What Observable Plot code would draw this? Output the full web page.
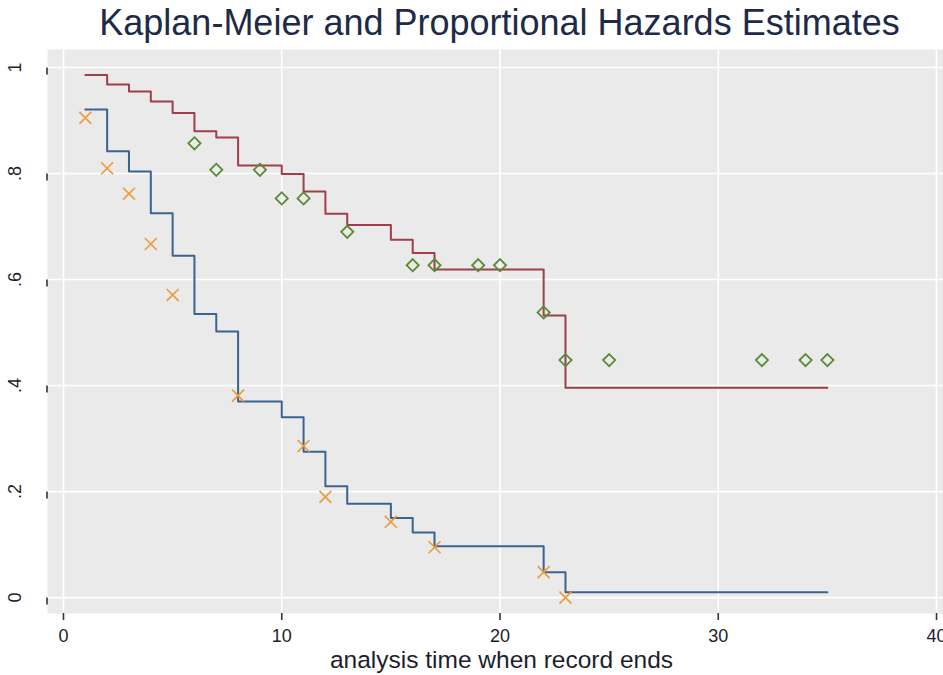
<!DOCTYPE html>
<html>
<head>
<meta charset="utf-8">
<script src="https://cdn.jsdelivr.net/npm/d3@7"></script>
<script src="https://cdn.jsdelivr.net/npm/@observablehq/plot@0.6"></script>
<style>
  html, body { margin: 0; padding: 0; background: #ffffff; }
  #title {
    box-sizing: border-box; width: 943px; height: 49px;
    padding-left: 56px; text-align: center;
    font-family: "Liberation Sans", Arial, sans-serif; font-size: 36px;
    color: #1e2a48; line-height: 46px; white-space: nowrap;
  }
  #chart svg { display: block; }
</style>
</head>
<body>
<div id="title">Kaplan-Meier and Proportional Hazards Estimates</div>
<div id="chart"></div>
<script>
// Step times for the Cox (proportional hazards) curves
const coxTimes = [1, 2, 3, 4, 5, 6, 7, 8, 10, 11, 12, 13, 15, 16, 17, 22, 23, 35];
// Cox estimate, treated group (red)
const coxTreated = [0.986, 0.968, 0.955, 0.936, 0.914, 0.880, 0.868, 0.815, 0.799, 0.766, 0.724, 0.703, 0.675, 0.650, 0.619, 0.532, 0.396, 0.396];
// Cox estimate, placebo group (blue)
const coxPlacebo = [0.921, 0.842, 0.804, 0.725, 0.645, 0.535, 0.502, 0.370, 0.340, 0.275, 0.210, 0.177, 0.150, 0.123, 0.097, 0.048, 0.010, 0.010];

// Kaplan-Meier, treated group (green diamonds)
const kmTreatedTimes = [6, 7, 9, 10, 11, 13, 16, 17, 19, 20, 22, 23, 25, 32, 34, 35];
const kmTreated = [0.857, 0.807, 0.807, 0.753, 0.753, 0.690, 0.627, 0.627, 0.627, 0.627, 0.538, 0.448, 0.448, 0.448, 0.448, 0.448];

// Kaplan-Meier, placebo group (orange crosses)
const kmPlaceboTimes = [1, 2, 3, 4, 5, 8, 11, 12, 15, 17, 22, 23];
const kmPlacebo = [0.905, 0.810, 0.762, 0.667, 0.571, 0.381, 0.286, 0.190, 0.143, 0.095, 0.048, 0.000];

// Axis ticks and labels
const xTicks = [0, 10, 20, 30, 40];
const yTicks = [0, 0.2, 0.4, 0.6, 0.8, 1];
const yTickLabels = ["0", ".2", ".4", ".6", ".8", "1"];
const xLabel = "analysis time when record ends";

const redData = coxTimes.map((t, i) => ({t, s: coxTreated[i]}));
const blueData = coxTimes.map((t, i) => ({t, s: coxPlacebo[i]}));
const greenData = kmTreatedTimes.map((t, i) => ({t, s: kmTreated[i]}));
const orangeData = kmPlaceboTimes.map((t, i) => ({t, s: kmPlacebo[i]}));

const font = "'Liberation Sans', Arial, sans-serif";
const labelColor = "#1e1e2c";

const chart = Plot.plot({
  width: 943,
  height: 626,
  marginTop: 0,
  marginBottom: 62,
  marginLeft: 47,
  marginRight: 0,
  style: {fontFamily: font, background: "#ffffff", overflow: "visible"},
  x: {domain: [-0.733, 40.32]},
  y: {domain: [-0.030, 1.034]},
  marks: [
    Plot.frame({fill: "#eaeaea", stroke: null}),
    Plot.gridX(xTicks, {stroke: "#ffffff", strokeOpacity: 1, strokeWidth: 1.6}),
    Plot.gridY(yTicks, {stroke: "#ffffff", strokeOpacity: 1, strokeWidth: 1.6}),
    Plot.axisX(xTicks, {
      tickSize: 7, tickPadding: 9, fontSize: 18, stroke: "#333333", strokeWidth: 1.6,
      fill: labelColor, label: null
    }),
    Plot.axisY(yTicks, {
      tickSize: 7, tickPadding: 25, fontSize: 18, stroke: "#333333", strokeWidth: 1.6,
      fill: labelColor, label: null,
      tickFormat: (d, i) => yTickLabels[i],
      rotate: -90, textAnchor: "middle"
    }),
    Plot.text([xLabel], {
      frameAnchor: "bottom", text: d => d, dy: 47, dx: 6,
      fontSize: 24.5, fill: labelColor, lineAnchor: "middle"
    }),
    Plot.line(redData, {x: "t", y: "s", curve: "step-after", stroke: "#9e3f49", strokeWidth: 2}),
    Plot.line(blueData, {x: "t", y: "s", curve: "step-after", stroke: "#3a6390", strokeWidth: 2}),
    Plot.dot(greenData, {x: "t", y: "s", symbol: "diamond2", r: 5.5, stroke: "#5a8a36", strokeWidth: 1.8, fill: "none"}),
    Plot.dot(orangeData, {x: "t", y: "s", symbol: "times", r: 5.5, stroke: "#ec9a3a", strokeWidth: 1.6, fill: "none"})
  ]
});
document.getElementById("chart").appendChild(chart);
</script>
</body>
</html>
